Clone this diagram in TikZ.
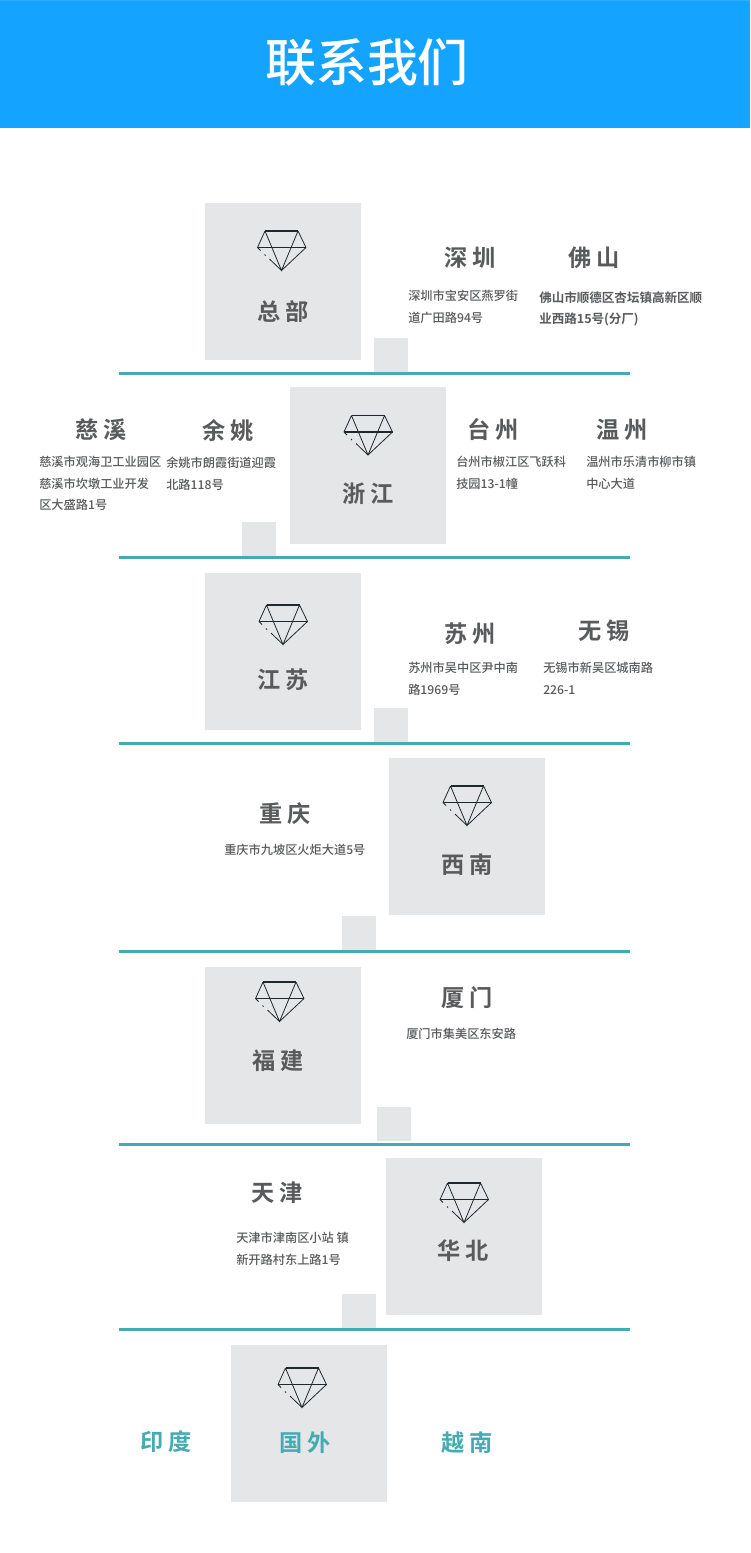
\documentclass[tikz,border=0pt]{standalone}
\usepackage{fontspec}
\setmainfont{Noto Sans CJK SC}
\newfontfamily\cjkbold{Noto Sans CJK SC Bold}
\newfontfamily\cjkmed{Noto Sans CJK SC Medium}
\definecolor{headblue}{HTML}{14A3FF}
\definecolor{headtop}{HTML}{2FAEFF}
\definecolor{panel}{HTML}{E5E6E8}
\definecolor{rulecol}{HTML}{45ABB3}
\definecolor{txtgray}{HTML}{595A5C}
\definecolor{icon}{HTML}{1E2A2A}
\tikzset{
  panelbox/.style={fill=panel,draw=none,anchor=north west,inner sep=0pt,minimum width=117pt,minimum height=117.75pt},
  tinybox/.style={fill=panel,draw=none,anchor=north west,inner sep=0pt,minimum width=25.5pt,minimum height=25.5pt},
  divider/.style={draw=rulecol,line width=2.25pt},
  city/.style={text=txtgray,font=\cjkbold\fontsize{17.4pt}{20pt}\selectfont,inner sep=0pt},
  tealcity/.style={city,text=rulecol},
  addr/.style={text=txtgray,font=\cjkmed\fontsize{9.15pt}{16.1pt}\selectfont,align=left,anchor=north west,inner sep=0pt},
  addrb/.style={addr,font=\cjkbold\fontsize{9.4pt}{16.3pt}\selectfont},
  gem/.pic={
    \draw[icon,line width=1.3pt] (-16.5,-39.5) -- (16.5,-39.5);
    \draw[icon,line width=1.3pt] (-24,-23) -- (24.5,-23);
    \draw[icon,line width=.6pt] (-16.5,-39.5) -- (-24,-23) (16.5,-39.5) -- (24.5,-23)
      (-16.5,-39.5) -- (0,0) -- (16.5,-39.5) (24.5,-23) -- (0,0)
      (-24,-23) -- (-21,-20) (-17,-16) -- (-16,-15) (-12,-11.5) -- (0,0);
  }
}
\begin{document}
\begin{tikzpicture}[x=0.75pt,y=-0.75pt]
\useasboundingbox (0,0) rectangle (750,1553);
\fill[white] (0,0) rectangle (750,1553);
\fill[headblue] (0,0) rectangle (750,128);
\fill[headtop] (0,0) rectangle (750,1);
\node[text=white,font=\cjkmed\fontsize{38.2pt}{40pt}\selectfont,inner sep=0pt] (title) at (367,62) {联系我们};

% panels
\node[panelbox] (p1) at (205,203) {};
\node[panelbox] (p2) at (290,387) {};
\node[panelbox] (p3) at (205,573) {};
\node[panelbox] (p4) at (389,758) {};
\node[panelbox] (p5) at (205,967) {};
\node[panelbox] (p6) at (386,1158) {};
\node[panelbox] (p7) at (231,1345) {};
% small squares
\node[tinybox] (s1) at (374,338) {};
\node[tinybox] (s2) at (242,522) {};
\node[tinybox] (s3) at (374,708) {};
\node[tinybox] (s4) at (342,916) {};
\node[tinybox] (s5) at (377,1107) {};
\node[tinybox] (s6) at (342,1294) {};
% dividers
\draw[divider] (119,373.5) -- (630,373.5);
\draw[divider] (119,557.5) -- (630,557.5);
\draw[divider] (119,743.5) -- (630,743.5);
\draw[divider] (119,951.5) -- (630,951.5);
\draw[divider] (119,1144.5) -- (630,1144.5);
\draw[divider] (119,1329.5) -- (630,1329.5);
% icons
\pic at (281.5,270.5) {gem};
\pic at (368,455) {gem};
\pic at (283,644.5) {gem};
\pic at (467,825.5) {gem};
\pic at (279.5,1021.5) {gem};
\pic at (464,1222.5) {gem};
\pic at (302,1407.5) {gem};
% headings
\node[city] (c1) at (283,311.5) {总 部};
\node[city] (c2) at (470,257.5) {深 圳};
\node[city] (c3) at (594,257.5) {佛 山};
\node[city] (c4) at (101,429.5) {慈 溪};
\node[city] (c5) at (228,430.5) {余 姚};
\node[city] (c6) at (368,493.5) {浙 江};
\node[city] (c7) at (493,429.5) {台 州};
\node[city] (c8) at (622,429.5) {温 州};
\node[city] (c9) at (283,679.5) {江 苏};
\node[city] (c10) at (470,633.5) {苏 州};
\node[city] (c11) at (604,630.5) {无 锡};
\node[city] (c12) at (285,813.5) {重 庆};
\node[city] (c13) at (467,864.5) {西 南};
\node[city] (c14) at (278,1060.5) {福 建};
\node[city] (c15) at (467,997.5) {厦 门};
\node[city] (c16) at (277,1192.5) {天 津};
\node[city] (c17) at (463,1250.5) {华 北};
\node[tealcity] (c18) at (166,1441.5) {印 度};
\node[tealcity] (c19) at (305,1442.5) {国 外};
\node[tealcity] (c20) at (467,1442.5) {越 南};
% addresses
\node[addr] (a1) at (408,290) {深圳市宝安区燕罗街\\道广田路94号};
\node[addrb] (a2) at (539,291) {佛山市顺德区杏坛镇高新区顺\\业西路15号(分厂)};
\node[addr] (a3) at (39,456) {慈溪市观海卫工业园区\\慈溪市坎墩工业开发\\区大盛路1号};
\node[addr] (a4) at (166,457) {余姚市朗霞街道迎霞\\北路118号};
\node[addr] (a5) at (456,456) {台州市椒江区飞跃科\\技园13-1幢};
\node[addr] (a6) at (586,456) {温州市乐清市柳市镇\\中心大道};
\node[addr] (a7) at (408,662) {苏州市吴中区尹中南\\路1969号};
\node[addr] (a8) at (543,662) {无锡市新吴区城南路\\226-1};
\node[addr] (a9) at (224,844) {重庆市九坡区火炬大道5号};
\node[addr] (a10) at (406,1028) {厦门市集美区东安路};
\node[addr] (a11) at (236,1232) {天津市津南区小站 镇\\新开路村东上路1号};
\end{tikzpicture}
\end{document}
